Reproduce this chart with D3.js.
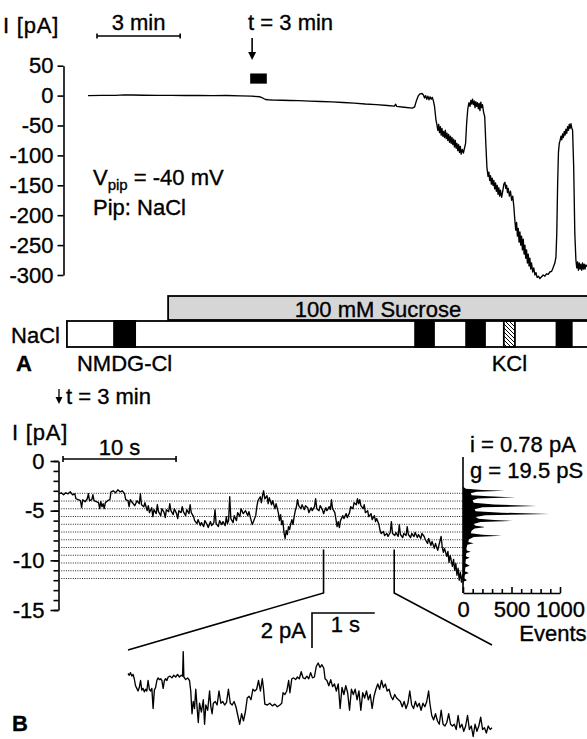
<!DOCTYPE html>
<html lang="en">
<head>
<meta charset="UTF-8">
<title>Current recording, panels A and B</title>
<script src="https://d3js.org/d3.v7.min.js"></script>
<style>
  body { margin: 0; background: #fff; }
  svg text { font-family: Arial, "Liberation Sans", Helvetica, sans-serif; font-size: 22px; fill: #000; stroke: #000; stroke-width: 0.35px; }
  .axis path, .axis line { stroke: #000; stroke-width: 1.6; }
  .axis text { font-size: 22px; font-family: Arial, "Liberation Sans", Helvetica, sans-serif; }
  .trace { fill: none; stroke: #000; stroke-width: 1.35; stroke-linejoin: round; }
  .level { stroke: #222; stroke-width: 1; stroke-dasharray: 1 1.3; }
  .bar { stroke: #000; stroke-width: 1.8; }
</style>
</head>
<body>
<svg id="chart" width="587" height="739"></svg>
<script>
// ---------- panel A : whole-cell current, minutes vs pA ----------
const ticksA = [50, 0, -50, -100, -150, -200, -250, -300];
const sweepA = [
  [0,0],[0.5,0.3],[1,0.5],[1.3,1.2],[1.6,1],[2,0.6],[2.5,0.3],[3,0.5],[3.5,0.2],[4,0.4],[4.5,0],[5,0.2],[5.5,-0.5],[5.9,-1],[6.2,-2],[6.3,-4],[6.4,-6.5],[6.5,-7],[6.7,-7.5],[7,-7.8],[7.3,-8.2],[7.6,-8.5],[8,-9.2],[8.4,-9.8],[8.8,-10.5],[9.2,-11.5],[9.6,-12.5],[10,-14],[10.4,-15],[10.8,-16.5],[11.05,-17.5],[11.1,-14.5],[11.13,-18],[11.4,-19.5],[11.7,-21],[11.78,-19],[11.85,-8],[11.92,0],[11.98,3],[12.05,3.5],[12.1,1],[12.14,-4],[12.18,0],[12.22,-6],[12.26,-1],[12.3,-7],[12.34,-2],[12.38,-6],[12.42,-3],[12.46,-9],[12.5,-18],[12.55,-40],[12.59,-50],[12.62,-58],[12.65,-48],[12.68,-62],[12.71,-52],[12.74,-66],[12.77,-55],[12.8,-68],[12.83,-60],[12.86,-70],[12.89,-58],[12.92,-72],[12.95,-63],[12.98,-75],[13.01,-65],[13.04,-78],[13.07,-68],[13.1,-80],[13.13,-70],[13.16,-82],[13.19,-73],[13.22,-86],[13.25,-75],[13.28,-88],[13.31,-80],[13.34,-92],[13.37,-82],[13.4,-95],[13.43,-85],[13.46,-98],[13.5,-90],[13.54,-96],[13.58,-88],[13.62,-80],[13.66,-45],[13.7,-22],[13.74,-12],[13.78,-18],[13.81,-8],[13.84,-14],[13.87,-6],[13.9,-15],[13.93,-9],[13.96,-20],[13.99,-10],[14.02,-18],[14.05,-12],[14.08,-22],[14.11,-13],[14.14,-25],[14.17,-11],[14.2,-20],[14.23,-15],[14.27,-28],[14.31,-35],[14.35,-80],[14.39,-120],[14.43,-135],[14.46,-128],[14.49,-142],[14.52,-134],[14.55,-148],[14.58,-138],[14.61,-150],[14.64,-142],[14.67,-156],[14.7,-146],[14.73,-160],[14.76,-150],[14.79,-165],[14.82,-154],[14.85,-168],[14.88,-158],[14.92,-170],[14.96,-160],[15,-148],[15.04,-145],[15.07,-155],[15.1,-150],[15.13,-162],[15.16,-155],[15.2,-168],[15.24,-160],[15.28,-175],[15.32,-168],[15.36,-185],[15.4,-210],[15.43,-225],[15.46,-212],[15.49,-235],[15.52,-222],[15.55,-245],[15.58,-228],[15.61,-250],[15.64,-235],[15.67,-258],[15.7,-240],[15.73,-265],[15.76,-250],[15.79,-272],[15.82,-258],[15.85,-280],[15.88,-265],[15.91,-285],[15.94,-272],[15.97,-290],[16,-280],[16.04,-295],[16.08,-288],[16.12,-300],[16.16,-296],[16.2,-304],[16.25,-302],[16.3,-306],[16.36,-303],[16.42,-300],[16.48,-302],[16.54,-298],[16.6,-299],[16.66,-295],[16.72,-294],[16.76,-290],[16.8,-285],[16.84,-280],[16.88,-270],[16.91,-230],[16.94,-150],[16.97,-95],[17,-80],[17.03,-75],[17.06,-68],[17.09,-74],[17.12,-64],[17.15,-70],[17.18,-60],[17.21,-66],[17.24,-56],[17.27,-63],[17.3,-52],[17.33,-58],[17.36,-48],[17.39,-55],[17.42,-47],[17.45,-54],[17.48,-58],[17.52,-120],[17.56,-230],[17.6,-275],[17.63,-288],[17.66,-278],[17.69,-292],[17.72,-280],[17.75,-290],[17.78,-282],[17.81,-292],[17.84,-280],[17.87,-290],[17.9,-282],[17.93,-290],[17.96,-283],[18,-286]
];

// solution protocol under the trace (minutes)
const naclBar = { label: "NaCl", from: -0.76, to: 18.3 };
const sucroseBar = { label: "100 mM Sucrose", from: 2.89, to: 18.3 };
const pulses = [
  { kind: "NMDG-Cl", from: 0.94, to: 1.70 },
  { kind: "NMDG-Cl", from: 11.8, to: 12.48 },
  { kind: "NMDG-Cl", from: 13.64, to: 14.32 },
  { kind: "KCl", from: 15.0, to: 15.4 },
  { kind: "NMDG-Cl", from: 16.9, to: 17.45 }
];
const pulseLabels = [{ text: "NMDG-Cl", at: 1.32 }, { text: "KCl", at: 15.2 }];
const markA = { t: 5.92, boxFrom: 5.85, boxTo: 6.45 };

// ---------- panel B : single channel levels, seconds vs pA ----------
const ticksB = [0, -5, -10, -15];
const minorB = [0,-1,-2,-3,-4,-5,-6,-7,-8,-9,-10,-11,-12,-13,-14,-15];
const levelsB = [-3.25,-4.03,-4.81,-5.59,-6.37,-7.15,-7.93,-8.71,-9.49,-10.27,-11.05,-11.83];
const sweepB = [
  [0,-3.3],[0.2,-3.2],[0.4,-3.4],[0.6,-3.2],[0.8,-3.3],[1.0,-3.1],[1.2,-3.4],[1.4,-3.3],[1.5,-3.8],[1.7,-3.9],[1.9,-4.0],[2.0,-4.7],[2.1,-3.9],[2.3,-4.1],[2.5,-3.8],[2.6,-3.3],[2.7,-4.0],[2.9,-3.9],[3.0,-3.4],[3.1,-4.0],[3.3,-4.1],[3.5,-4.2],[3.6,-4.8],[3.7,-4.1],[3.8,-4.6],[3.9,-4.3],[4.0,-4.8],[4.1,-4.2],[4.3,-4.0],[4.5,-3.9],[4.6,-3.1],[4.8,-3.0],[5.0,-3.2],[5.2,-2.9],[5.4,-3.1],[5.6,-3.0],[5.8,-3.3],[5.9,-3.9],[6.1,-4.0],[6.2,-4.6],[6.3,-3.9],[6.5,-4.2],[6.7,-4.5],[6.9,-4.0],[7.1,-4.3],[7.2,-3.3],[7.3,-4.4],[7.5,-4.6],[7.6,-4.2],[7.8,-5.0],[7.9,-4.5],[8.0,-5.2],[8.2,-4.7],[8.3,-5.6],[8.4,-4.9],[8.6,-5.3],[8.7,-4.4],[8.8,-5.1],[9.0,-5.5],[9.1,-4.8],[9.3,-5.2],[9.4,-5.7],[9.5,-4.9],[9.7,-5.1],[9.8,-4.3],[9.9,-5.0],[10.1,-5.4],[10.2,-4.8],[10.4,-5.3],[10.5,-5.8],[10.6,-5.0],[10.8,-5.2],[10.9,-4.6],[11.0,-5.1],[11.2,-5.5],[11.3,-4.9],[11.5,-5.3],[11.6,-4.4],[11.7,-5.2],[11.9,-5.6],[12.0,-6.0],[12.2,-6.3],[12.3,-5.9],[12.5,-6.5],[12.6,-6.2],[12.8,-6.6],[12.9,-6.0],[13.1,-6.4],[13.2,-6.7],[13.4,-6.1],[13.5,-6.5],[13.7,-6.2],[13.8,-4.9],[13.9,-6.3],[14.1,-6.6],[14.2,-6.0],[14.4,-6.4],[14.5,-6.1],[14.7,-6.5],[14.8,-5.6],[14.9,-6.3],[15.0,-6.0],[15.1,-3.6],[15.2,-5.8],[15.4,-6.2],[15.5,-5.5],[15.7,-6.0],[15.8,-5.2],[16.0,-5.6],[16.1,-4.8],[16.3,-5.3],[16.5,-5.0],[16.7,-5.5],[16.8,-5.1],[17.0,-6.0],[17.1,-6.4],[17.2,-6.1],[17.4,-5.5],[17.5,-4.6],[17.6,-4.0],[17.8,-3.6],[17.9,-4.2],[18.0,-3.5],[18.1,-3.0],[18.2,-3.8],[18.4,-3.5],[18.5,-4.3],[18.6,-3.7],[18.8,-4.4],[18.9,-4.0],[19.1,-4.8],[19.2,-4.3],[19.4,-5.2],[19.5,-6.0],[19.6,-5.4],[19.7,-6.4],[19.8,-6.0],[19.9,-7.2],[20.0,-7.8],[20.1,-7.0],[20.2,-7.4],[20.3,-6.6],[20.4,-6.9],[20.5,-6.3],[20.6,-5.9],[20.7,-6.4],[20.8,-5.6],[20.9,-5.0],[21.0,-4.6],[21.1,-3.9],[21.2,-4.5],[21.4,-4.8],[21.5,-4.4],[21.7,-4.9],[21.8,-4.5],[22.0,-4.7],[22.1,-5.2],[22.3,-4.7],[22.4,-5.0],[22.6,-4.6],[22.7,-3.8],[22.8,-4.8],[23.0,-5.0],[23.1,-4.5],[23.3,-4.9],[23.4,-5.3],[23.6,-4.7],[23.7,-5.0],[23.9,-4.6],[24.0,-4.9],[24.1,-3.9],[24.2,-4.8],[24.4,-5.2],[24.5,-5.9],[24.6,-6.6],[24.7,-6.1],[24.8,-6.7],[24.9,-6.0],[25.1,-5.5],[25.2,-5.8],[25.4,-5.3],[25.5,-5.7],[25.7,-5.2],[25.8,-4.6],[26.0,-4.8],[26.1,-4.2],[26.3,-4.4],[26.4,-3.8],[26.5,-4.3],[26.6,-3.9],[26.7,-4.5],[26.9,-4.8],[27.0,-4.4],[27.1,-5.2],[27.3,-5.0],[27.4,-5.6],[27.6,-5.3],[27.7,-5.9],[27.9,-5.5],[28.0,-6.1],[28.1,-5.8],[28.3,-6.4],[28.4,-7.0],[28.5,-7.3],[28.7,-7.1],[28.8,-7.5],[29.0,-7.3],[29.1,-7.6],[29.3,-7.2],[29.4,-6.1],[29.5,-7.3],[29.7,-7.5],[29.8,-7.2],[30.0,-7.6],[30.1,-6.4],[30.2,-7.4],[30.4,-7.7],[30.5,-7.3],[30.7,-7.5],[30.8,-6.6],[30.9,-7.4],[31.1,-7.7],[31.2,-7.3],[31.4,-7.6],[31.5,-7.2],[31.7,-7.7],[31.8,-7.4],[32.0,-7.8],[32.1,-7.3],[32.3,-7.6],[32.4,-7.9],[32.6,-8.3],[32.7,-7.8],[32.9,-8.5],[33.0,-8.1],[33.2,-8.8],[33.3,-8.3],[33.5,-9.0],[33.6,-8.5],[33.8,-7.6],[33.9,-8.7],[34.0,-9.2],[34.1,-8.8],[34.3,-9.6],[34.4,-9.1],[34.5,-10.2],[34.6,-9.5],[34.8,-10.6],[34.9,-9.9],[35.0,-11.0],[35.1,-10.3],[35.2,-11.5],[35.3,-10.8],[35.4,-12.0],[35.5,-11.2],[35.6,-12.2],[35.7,-11.4]
];

// all-points histogram outline: [current pA, events]
const histB = [
  [-2.6,0],[-2.8,30],[-2.92,200],[-3.0,430],[-3.1,140],[-3.25,80],[-3.45,90],[-3.56,260],[-3.66,540],[-3.78,150],[-3.95,100],[-4.2,110],[-4.38,320],[-4.53,760],[-4.66,200],[-4.85,120],[-5.05,130],[-5.2,400],[-5.33,890],[-5.46,230],[-5.65,130],[-5.82,160],[-5.94,320],[-6.03,520],[-6.15,180],[-6.35,110],[-6.52,130],[-6.62,210],[-6.68,220],[-6.8,120],[-7.0,90],[-7.28,80],[-7.42,200],[-7.53,400],[-7.65,110],[-7.9,60],[-8.15,55],[-8.27,110],[-8.42,45],[-8.8,35],[-9.02,40],[-9.13,80],[-9.25,35],[-9.6,30],[-9.75,70],[-9.9,30],[-10.3,25],[-10.55,70],[-10.7,25],[-11.1,20],[-11.28,60],[-11.42,20],[-11.8,15],[-12.0,40],[-12.12,8],[-12.6,0]
];
const histTicks = [0,100,200,300,400,500,600,700,800,900,1000];
const histLabels = [0, 500, 1000];

// expanded stretch of the record (s, pA)
const zoomWin = [23.4, 29.65];
const sweepInset = [
  [0,-4.6],[0.02,-4.7],[0.04,-4.55],[0.06,-4.75],[0.08,-4.65],[0.1,-4.9],[0.12,-5.3],[0.14,-5.45],[0.16,-5.6],[0.18,-5.4],[0.2,-5.0],[0.22,-5.55],[0.24,-5.45],[0.26,-5.65],[0.28,-5.5],[0.3,-5.6],[0.32,-5.0],[0.34,-5.5],[0.36,-5.6],[0.38,-5.45],[0.4,-6.6],[0.42,-5.55],[0.44,-5.4],[0.46,-5.0],[0.48,-4.85],[0.5,-4.95],[0.52,-4.9],[0.54,-5.0],[0.56,-5.45],[0.58,-5.0],[0.6,-4.9],[0.62,-5.0],[0.64,-4.8],[0.67,-4.75],[0.7,-4.85],[0.73,-4.7],[0.76,-4.8],[0.79,-4.65],[0.82,-4.8],[0.85,-4.7],[0.87,-4.75],[0.88,-3.35],[0.89,-4.8],[0.92,-4.95],[0.95,-4.85],[0.98,-5.0],[1.0,-5.6],[1.02,-6.9],[1.04,-6.2],[1.06,-6.6],[1.08,-5.5],[1.1,-6.5],[1.12,-7.4],[1.14,-6.3],[1.17,-6.8],[1.2,-6.1],[1.22,-7.5],[1.24,-6.4],[1.27,-6.7],[1.3,-5.6],[1.32,-6.5],[1.34,-6.9],[1.36,-6.3],[1.39,-6.2],[1.42,-6.4],[1.45,-5.6],[1.48,-6.3],[1.51,-6.2],[1.54,-6.4],[1.57,-6.25],[1.6,-5.5],[1.63,-6.3],[1.66,-6.4],[1.69,-6.2],[1.72,-6.5],[1.75,-7.0],[1.78,-7.5],[1.81,-6.9],[1.84,-7.3],[1.87,-6.8],[1.9,-6.0],[1.93,-5.9],[1.96,-6.1],[1.99,-5.5],[2.02,-5.6],[2.05,-5.5],[2.08,-5.0],[2.11,-5.6],[2.14,-4.9],[2.16,-5.5],[2.18,-6.35],[2.22,-6.4],[2.26,-6.3],[2.3,-6.45],[2.34,-6.35],[2.38,-6.5],[2.42,-6.4],[2.45,-6.3],[2.47,-5.7],[2.5,-5.8],[2.53,-5.6],[2.56,-5.0],[2.58,-5.7],[2.61,-4.9],[2.64,-4.85],[2.67,-4.95],[2.7,-4.8],[2.73,-4.9],[2.76,-4.5],[2.79,-4.85],[2.82,-4.9],[2.85,-4.75],[2.88,-4.9],[2.91,-4.55],[2.94,-4.85],[2.97,-4.8],[3.0,-4.2],[3.03,-4.0],[3.06,-4.25],[3.09,-4.1],[3.12,-4.3],[3.14,-4.9],[3.17,-5.0],[3.2,-5.3],[3.23,-4.95],[3.26,-5.35],[3.29,-5.2],[3.32,-5.6],[3.35,-5.2],[3.38,-6.6],[3.41,-5.4],[3.44,-5.8],[3.47,-5.3],[3.5,-5.7],[3.53,-6.7],[3.56,-5.5],[3.59,-5.8],[3.62,-5.5],[3.65,-6.1],[3.68,-5.6],[3.71,-6.7],[3.74,-5.7],[3.77,-6.0],[3.8,-5.6],[3.83,-6.1],[3.86,-5.8],[3.89,-6.6],[3.92,-5.9],[3.95,-5.5],[3.98,-5.2],[4.01,-5.5],[4.04,-5.0],[4.07,-5.4],[4.1,-5.2],[4.13,-5.6],[4.16,-5.5],[4.19,-5.9],[4.22,-6.1],[4.25,-5.8],[4.28,-6.0],[4.31,-6.1],[4.34,-6.2],[4.37,-6.5],[4.4,-6.2],[4.43,-6.6],[4.46,-6.3],[4.49,-5.6],[4.52,-6.4],[4.55,-6.6],[4.58,-6.2],[4.61,-6.5],[4.64,-6.3],[4.67,-6.7],[4.7,-6.3],[4.73,-6.5],[4.76,-6.2],[4.79,-5.6],[4.81,-6.3],[4.84,-7.0],[4.87,-7.25],[4.9,-6.9],[4.93,-7.3],[4.96,-7.5],[4.99,-6.7],[5.02,-7.5],[5.05,-7.6],[5.08,-7.4],[5.11,-6.9],[5.14,-7.5],[5.17,-7.6],[5.2,-7.5],[5.23,-7.8],[5.26,-7.0],[5.29,-7.7],[5.32,-7.5],[5.35,-7.9],[5.38,-7.6],[5.41,-7.0],[5.44,-7.8],[5.47,-7.6],[5.5,-8.2],[5.53,-7.5],[5.56,-7.9],[5.59,-7.6],[5.62,-7.1],[5.65,-7.8],[5.68,-7.7],[5.71,-8.0],[5.74,-7.6],[5.77,-7.8],[5.8,-7.7]
];

// ---------- drawing ----------
const svg = d3.select("#chart");
const plain = d => String(d);   // hyphen minus, as in the figure

const defs = svg.append("defs");
defs.append("pattern")
    .attr("id", "hatch")
    .attr("width", 4).attr("height", 4)
    .attr("patternUnits", "userSpaceOnUse")
    .append("path")
    .attr("d", "M-1,-1 L5,5 M-1,3 L1,5 M3,-1 L5,1")
    .attr("stroke", "#000").attr("stroke-width", 1);

// ----- A -----
const xA = d3.scaleLinear().domain([0, 18]).range([88, 587]);
const yA = d3.scaleLinear().domain([50, -300]).range([65.7, 275]);

svg.append("g")
    .attr("class", "axis")
    .attr("transform", "translate(63.5,0)")
    .call(d3.axisLeft(yA).tickValues(ticksA).tickSize(6).tickSizeOuter(0).tickPadding(4).tickFormat(plain));

svg.append("text").attr("x", 3).attr("y", 33).attr("letter-spacing", 0.8).text("I [pA]");

// 3 min scale bar
const barA = svg.append("g").attr("stroke", "#000").attr("stroke-width", 1.6);
barA.append("line").attr("x1", 97).attr("x2", 97 + xA(3) - xA(0)).attr("y1", 36).attr("y2", 36);
barA.append("line").attr("x1", 97).attr("x2", 97).attr("y1", 33.5).attr("y2", 38.5);
barA.append("line").attr("x1", 97 + xA(3) - xA(0)).attr("x2", 97 + xA(3) - xA(0)).attr("y1", 33.5).attr("y2", 38.5);
svg.append("text").attr("x", 97 + (xA(3) - xA(0)) / 2).attr("y", 30).attr("text-anchor", "middle").text("3 min");

// application time marker
svg.append("text").attr("x", xA(markA.t) - 4).attr("y", 30).text("t = 3 min");
svg.append("line").attr("x1", xA(markA.t)).attr("x2", xA(markA.t)).attr("y1", 38).attr("y2", 54)
    .attr("stroke", "#000").attr("stroke-width", 1.6);
svg.append("path")
    .attr("d", `M${xA(markA.t) - 4},52 L${xA(markA.t) + 4},52 L${xA(markA.t)},60 Z`)
    .attr("fill", "#000");
svg.append("rect")
    .attr("x", xA(markA.boxFrom)).attr("width", xA(markA.boxTo) - xA(markA.boxFrom))
    .attr("y", yA(37)).attr("height", yA(20) - yA(37))
    .attr("fill", "#000");

svg.append("path")
    .datum(sweepA)
    .attr("class", "trace")
    .attr("d", d3.line().x(d => xA(d[0])).y(d => yA(d[1])));

const vt = svg.append("text").attr("x", 93).attr("y", 185);
vt.append("tspan").text("V");
vt.append("tspan").attr("font-size", 15).attr("dy", 5).text("pip");
vt.append("tspan").attr("dy", -5).text(" = -40 mV");
svg.append("text").attr("x", 93).attr("y", 215).text("Pip: NaCl");

// solution bars
svg.append("rect").attr("class", "bar")
    .attr("x", xA(sucroseBar.from)).attr("width", xA(sucroseBar.to) - xA(sucroseBar.from))
    .attr("y", 296).attr("height", 24)
    .attr("fill", "#d6d6d6");
svg.append("text")
    .attr("x", 378).attr("y", 317)
    .attr("text-anchor", "middle").text(sucroseBar.label);

svg.append("rect").attr("class", "bar")
    .attr("x", xA(naclBar.from)).attr("width", xA(naclBar.to) - xA(naclBar.from))
    .attr("y", 321).attr("height", 26)
    .attr("fill", "#fff");
svg.selectAll(".pulse")
    .data(pulses)
    .join("rect")
    .attr("class", "pulse bar")
    .attr("x", d => xA(d.from)).attr("width", d => xA(d.to) - xA(d.from))
    .attr("y", 321).attr("height", 26)
    .attr("fill", d => d.kind === "KCl" ? "url(#hatch)" : "#000");
svg.append("text").attr("x", xA(naclBar.from) - 7).attr("y", 343).attr("text-anchor", "end").text(naclBar.label);
svg.selectAll(".plabel")
    .data(pulseLabels)
    .join("text")
    .attr("class", "plabel")
    .attr("x", d => xA(d.at)).attr("y", 371)
    .attr("text-anchor", "middle")
    .text(d => d.text);
svg.append("text").attr("x", 16).attr("y", 371).attr("font-weight", "bold").text("A");

// ----- B -----
svg.append("line").attr("x1", 59).attr("x2", 59).attr("y1", 389).attr("y2", 402).attr("stroke", "#000").attr("stroke-width", 1.3);
svg.append("path").attr("d", "M55.5,397 L62.5,397 L59,404 Z").attr("fill", "#000");
svg.append("text").attr("x", 66).attr("y", 404).text("t = 3 min");

const xB = d3.scaleLinear().domain([0, 36]).range([59, 466]);
const yB = d3.scaleLinear().domain([0, -15]).range([461, 610]);

svg.append("g")
    .attr("class", "axis")
    .attr("transform", "translate(58.5,0)")
    .call(d3.axisLeft(yB).tickValues(minorB).tickSize(5).tickSizeOuter(0).tickFormat(""));
svg.append("g")
    .attr("class", "axis")
    .attr("transform", "translate(58.5,0)")
    .call(d3.axisLeft(yB).tickValues(ticksB).tickSize(8).tickSizeOuter(0).tickPadding(6).tickFormat(plain))
    .call(g => g.select(".domain").remove());

svg.append("text").attr("x", 12).attr("y", 440).attr("letter-spacing", 0.8).text("I [pA]");

// 10 s scale bar
const barB = svg.append("g").attr("stroke", "#000").attr("stroke-width", 1.6);
barB.append("line").attr("x1", xB(0) + 4).attr("x2", xB(10) + 4).attr("y1", 459).attr("y2", 459);
barB.append("line").attr("x1", xB(0) + 4).attr("x2", xB(0) + 4).attr("y1", 456).attr("y2", 462);
barB.append("line").attr("x1", xB(10) + 4).attr("x2", xB(10) + 4).attr("y1", 456).attr("y2", 462);
svg.append("text").attr("x", (xB(0) + xB(10)) / 2 + 4).attr("y", 455).attr("text-anchor", "middle").text("10 s");

// dotted conductance levels
const xH = d3.scaleLinear().domain([0, 1000]).range([463, 560]);
svg.selectAll(".level")
    .data(levelsB)
    .join("line")
    .attr("class", "level")
    .attr("x1", xB(0)).attr("x2", xH(0))
    .attr("y1", d => yB(d)).attr("y2", d => yB(d));

svg.append("path")
    .datum(sweepB)
    .attr("class", "trace")
    .attr("d", d3.line().x(d => xB(d[0])).y(d => yB(d[1])));

// histogram
svg.append("path")
    .datum(histB)
    .attr("fill", "#000")
    .attr("d", d3.area().y(d => yB(d[0])).x0(xH(0)).x1(d => xH(d[1])));
svg.append("line").attr("x1", xH(0)).attr("x2", xH(0)).attr("y1", 457).attr("y2", 593)
    .attr("stroke", "#000").attr("stroke-width", 1.6);
svg.append("g")
    .attr("class", "axis")
    .attr("transform", "translate(0,593)")
    .call(d3.axisBottom(xH).tickValues(histTicks).tickSize(-4).tickSizeOuter(0).tickPadding(8)
        .tickFormat(d => histLabels.includes(d) ? d : ""))
    .call(g => g.selectAll(".tick").filter(d => histLabels.includes(d)).select("line").attr("y2", -6));
svg.append("text").attr("x", 553).attr("y", 641).attr("text-anchor", "middle").text("Events");
svg.append("text").attr("x", 470).attr("y", 452).text("i = 0.78 pA");
svg.append("text").attr("x", 470).attr("y", 478).text("g = 19.5 pS");

// expanded inset
const xI = d3.scaleLinear().domain([0, 5.8]).range([128, 492]);
const yI = d3.scaleLinear().domain([-4.8, -7.8]).range([677, 729.5]);

const conn = svg.append("g").attr("stroke", "#000").attr("stroke-width", 1.6).attr("fill", "none");
conn.append("path").attr("d", `M${xB(zoomWin[0])},${yB(-8.9)} V593 L${xI(0)},650`);
conn.append("path").attr("d", `M${xB(zoomWin[1])},${yB(-8.9)} V593 L${xI(5.8)},645`);

const sb = svg.append("g").attr("stroke", "#000").attr("stroke-width", 1.6).attr("fill", "none");
sb.append("path").attr("d", `M312,${613 + yI(-7.8) - yI(-5.8)} V613 H${312 + xI(1) - xI(0)}`);
svg.append("text").attr("x", 306).attr("y", 638).attr("text-anchor", "end").text("2 pA");
svg.append("text").attr("x", 312 + (xI(1) - xI(0)) / 2 + 2).attr("y", 632).attr("text-anchor", "middle").text("1 s");

svg.append("path")
    .datum(sweepInset)
    .attr("class", "trace")
    .attr("d", d3.line().x(d => xI(d[0])).y(d => yI(d[1])));

svg.append("text").attr("x", 12).attr("y", 731).attr("font-weight", "bold").text("B");
</script>
</body>
</html>
